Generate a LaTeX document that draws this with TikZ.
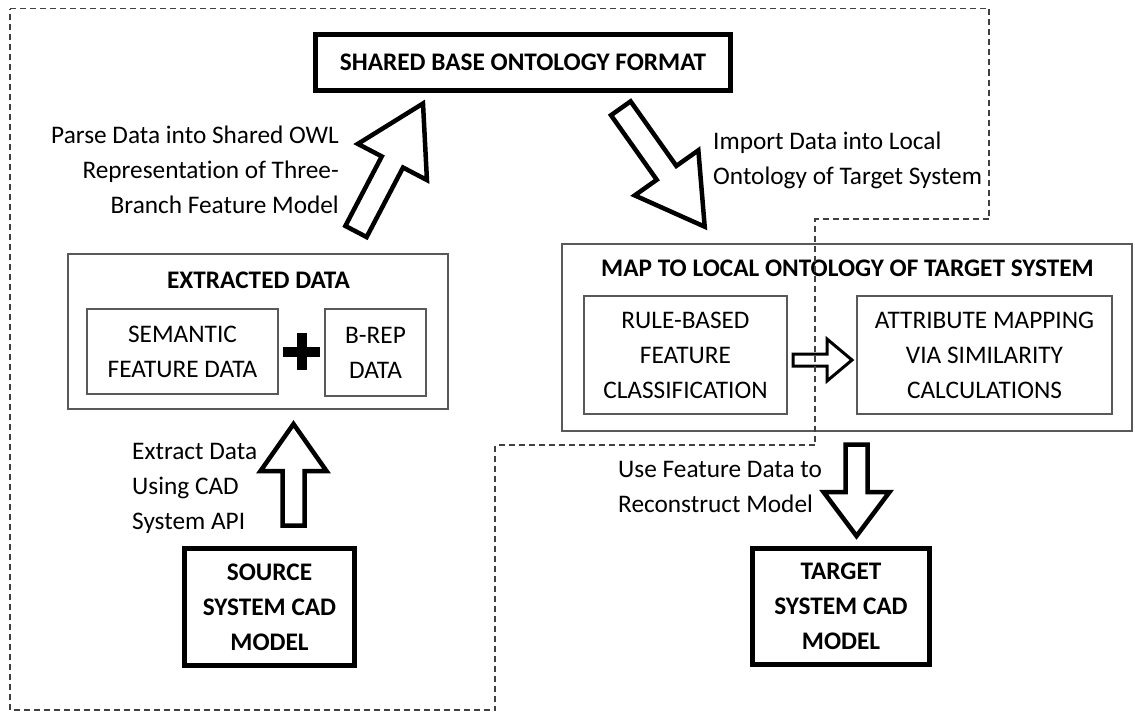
\documentclass[tikz,border=0pt]{standalone}
\usepackage{fontspec}
\setmainfont{Carlito}[Ligatures=NoCommon]
\usetikzlibrary{calc}

\newcommand{\diagfont}{\fontsize{25.3}{35}\selectfont}

% hollow block arrow from a tail point to a tip point:
% #1 extra options, #2 tail, #3 tip, #4 half shaft width, #5 half head width, #6 head length
\newcommand{\drawblockarrow}[6][]{%
  \path ($(#3)!#6!(#2)$) coordinate (ba-base);
  \draw[blockarrowstyle,#1]
    ($(#2)!#4!90:(#3)$) -- ($(ba-base)!#4!90:(#3)$) -- ($(ba-base)!#5!90:(#3)$)
    -- (#3)
    -- ($(ba-base)!#5!-90:(#3)$) -- ($(ba-base)!#4!-90:(#3)$) -- ($(#2)!#4!-90:(#3)$)
    -- cycle;
}

\tikzset{
  heavybox/.style={draw=black, line width=4.5pt, inner sep=0pt, align=center, font=\diagfont\bfseries},
  thinbox/.style={draw=black!65, line width=1.4pt, inner sep=0pt, align=center, font=\diagfont},
  titletext/.style={inner sep=0pt, font=\diagfont\bfseries},
  labeltext/.style={inner sep=0pt, font=\diagfont},
  blockarrowstyle/.style={draw=black, fill=white, line width=4.5pt, line join=miter},
  outline/.style={draw=black!75, line width=1.6pt, dash pattern=on 6pt off 4pt},
}

\begin{document}
\begin{tikzpicture}[x=1pt, y=-1pt]
  \useasboundingbox (0,0) rectangle (1135,712);
  \fill[white] (0,0) rectangle (1135,712);

  % boxes
  \node[heavybox, minimum width=415pt, minimum height=56pt] (shared) at (523,62.5) {SHARED BASE ONTOLOGY FORMAT};

  \node[thinbox, minimum width=380pt, minimum height=155pt] (extracted) at (258,331.5) {};
  \node[titletext] (extractedtitle) at (258.5,280.6) {EXTRACTED DATA};
  \node[thinbox, minimum width=191pt, minimum height=85pt] (semantic) at (182.5,351.5) {SEMANTIC\\FEATURE DATA};
  \node[thinbox, minimum width=101pt, minimum height=87pt] (brep) at (375.5,352.5) {B-REP\\DATA};
  \draw[line width=10pt] (283,351.5) -- (320,351.5);
  \draw[line width=10pt] (301.5,333) -- (301.5,370);

  \node[heavybox, minimum width=170pt, minimum height=117pt] (source) at (269.5,607) {SOURCE\\SYSTEM CAD\\MODEL};

  \node[thinbox, minimum width=570pt, minimum height=187pt] (map) at (847,337.5) {};
  \node[titletext] (maptitle) at (847.5,268.6) {MAP TO LOCAL ONTOLOGY OF TARGET SYSTEM};
  \node[thinbox, minimum width=203pt, minimum height=118pt] (rule) at (685.5,355) {RULE-BASED\\FEATURE\\CLASSIFICATION};
  \node[thinbox, minimum width=255pt, minimum height=118pt] (attr) at (984.5,355) {ATTRIBUTE MAPPING\\VIA SIMILARITY\\CALCULATIONS};

  \node[heavybox, minimum width=177pt, minimum height=116pt] (target) at (841,606.5) {TARGET\\SYSTEM CAD\\MODEL};

  % arrow end points
  \coordinate (srcTail) at (293.5,525.5);
  \coordinate (srcTip) at (293.5,424);
  \coordinate (extTail) at (356,231.5);
  \coordinate (extTip) at (423,103.5);
  \coordinate (shrTail) at (620.8,108.3);
  \coordinate (shrTip) at (704.7,226.7);
  \coordinate (mapTail) at (856.5,444.5);
  \coordinate (mapTip) at (856.5,536);
  \coordinate (ruleTail) at (793,360);
  \coordinate (ruleTip) at (852,360);

  % block arrows
  \drawblockarrow{srcTail}{srcTip}{11pt}{33pt}{47pt}
  \drawblockarrow{extTail}{extTip}{12pt}{39pt}{66pt}
  \drawblockarrow{shrTail}{shrTip}{12pt}{39pt}{66pt}
  \drawblockarrow{mapTail}{mapTip}{11pt}{33pt}{44pt}
  \drawblockarrow[line width=3pt]{ruleTail}{ruleTip}{6pt}{21pt}{25pt}

  % arrow labels
  \node[labeltext, anchor=east, align=right] (parselbl) at (339,169.5) {Parse Data into Shared OWL\\Representation of Three-\\Branch Feature Model};
  \node[labeltext, anchor=west, align=left] (importlbl) at (713,160) {Import Data into Local\\Ontology of Target System};
  \node[labeltext, anchor=west, align=left] (extractlbl) at (132,488.5) {Extract Data\\Using CAD\\System API};
  \node[labeltext, anchor=west, align=left] (uselbl) at (618,486.5) {Use Feature Data to\\Reconstruct Model};

  % dashed boundary around the source-side steps
  \draw[outline] (10,8.5) -- (989,8.5) -- (989,219) -- (815,219) -- (815,445)
    -- (495,445) -- (495,710) -- (10,710) -- cycle;
\end{tikzpicture}
\end{document}
